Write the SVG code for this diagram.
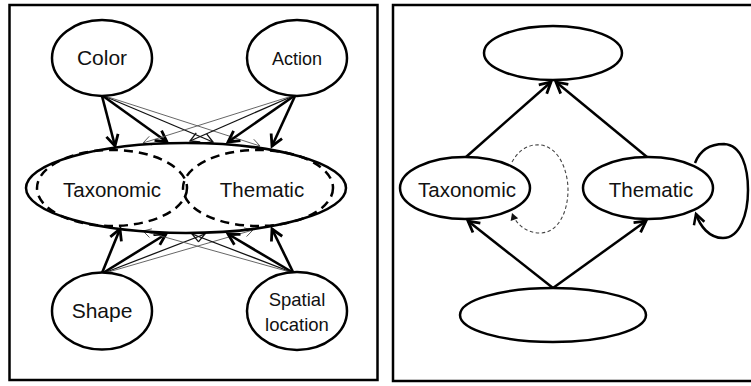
<svg xmlns="http://www.w3.org/2000/svg" width="751" height="386" viewBox="0 0 751 386">
<style>
.frame{fill:none;stroke:#000;stroke-width:2.5}
.node{fill:#fff;stroke:#000;stroke-width:2.5}
.big{fill:none;stroke:#000;stroke-width:2.5}
.dash{fill:none;stroke:#000;stroke-width:2.5;stroke-dasharray:9,6}
.lbl{font-family:"Liberation Sans",Arial,sans-serif;fill:#111;text-anchor:middle}
.thick{stroke:#000;stroke-width:2.6;fill:none;marker-end:url(#ah)}
.thin{stroke:#111;stroke-width:1.3;fill:none;marker-end:url(#am)}
.thinnest{stroke:#555;stroke-width:0.9;fill:none;marker-end:url(#as)}
.rarrow{stroke:#000;stroke-width:2.5;fill:none;marker-end:url(#ah)}
.dcurve{stroke:#444;stroke-width:1.1;fill:none;stroke-dasharray:3.5,2.5;marker-end:url(#ad)}
.loop{stroke:#000;stroke-width:2.5;fill:none;marker-end:url(#al)}
</style>
<defs>
<marker id="ah" markerUnits="userSpaceOnUse" markerWidth="20" markerHeight="20" refX="0" refY="0" viewBox="-14 -10 16 20" orient="auto"><path d="M-11,-6 L0,0 L-11,6" fill="none" stroke="#000" stroke-width="2.8"/></marker>
<marker id="am" markerUnits="userSpaceOnUse" markerWidth="20" markerHeight="20" refX="0" refY="0" viewBox="-14 -10 16 20" orient="auto"><path d="M-9,-5 L0,0 L-9,5" fill="none" stroke="#111" stroke-width="1.3"/></marker>
<marker id="as" markerUnits="userSpaceOnUse" markerWidth="20" markerHeight="20" refX="0" refY="0" viewBox="-14 -10 16 20" orient="auto"><path d="M-8,-4.5 L0,0 L-8,4.5" fill="none" stroke="#555" stroke-width="0.9"/></marker>
<marker id="ad" markerUnits="userSpaceOnUse" markerWidth="14" markerHeight="14" refX="0" refY="0" viewBox="-10 -7 12 14" orient="auto"><path d="M-7,-4 L0,0 L-7,4 Z" fill="#111" stroke="none"/></marker>
<marker id="al" markerUnits="userSpaceOnUse" markerWidth="20" markerHeight="20" refX="0" refY="0" viewBox="-14 -10 16 20" orient="auto"><path d="M-10,-5.5 L0,0 L-10,5.5" fill="none" stroke="#000" stroke-width="2.5"/></marker>
</defs>

<rect class="frame" x="9.5" y="5" width="368" height="375"/>
<rect class="frame" x="393" y="5" width="400" height="376"/>

<g id="connectors">
  <!-- left: from Color -->
  <line class="thick" x1="102" y1="96" x2="115" y2="146"/>
  <line class="thick" x1="103" y1="96" x2="167" y2="142"/>
  <line class="thin" x1="104" y1="96" x2="213" y2="142"/>
  <line class="thinnest" x1="105" y1="96" x2="260" y2="146"/>
  <!-- left: from Action -->
  <line class="thick" x1="295" y1="96" x2="272" y2="146"/>
  <line class="thick" x1="294" y1="96" x2="228" y2="142"/>
  <line class="thin" x1="293" y1="96" x2="190" y2="141"/>
  <line class="thinnest" x1="292" y1="96" x2="143" y2="143"/>
  <!-- left: from Shape -->
  <line class="thick" x1="102" y1="273" x2="120" y2="229"/>
  <line class="thick" x1="103" y1="273" x2="166" y2="234"/>
  <line class="thin" x1="104" y1="273" x2="205" y2="234"/>
  <line class="thinnest" x1="105" y1="273" x2="253" y2="230"/>
  <!-- left: from Spatial location -->
  <line class="thick" x1="293" y1="272" x2="272" y2="229"/>
  <line class="thick" x1="292" y1="272" x2="228" y2="234"/>
  <line class="thin" x1="291" y1="272" x2="192" y2="234"/>
  <line class="thinnest" x1="290" y1="272" x2="143" y2="231"/>
  <!-- right panel -->
  <line class="rarrow" x1="466" y1="157" x2="551" y2="82"/>
  <line class="rarrow" x1="647" y1="157" x2="556" y2="82"/>
  <line class="rarrow" x1="553" y1="288" x2="468" y2="221"/>
  <line class="rarrow" x1="553" y1="288" x2="646" y2="221"/>
  <path class="dcurve" d="M512,162 C520,148 530,144 541,145 C560,148 568,172 568,190 C568,212 558,233 540,233 C526,233 516,224 512,213"/>
  <path class="loop" d="M695,163 C700,150 710,144 724,144 C742,145 748,168 748,190 C748,214 740,238 723,238 C709,238 700,226 696,214"/>
</g>

<g id="left-big">
  <ellipse class="big" cx="186" cy="188" rx="160" ry="45"/>
</g>
<g id="left-taxonomic">
  <ellipse class="dash" cx="112" cy="188" rx="75" ry="38"/>
  <text class="lbl" x="112" y="197" font-size="20.5">Taxonomic</text>
</g>
<g id="left-thematic">
  <ellipse class="dash" cx="258" cy="188" rx="75" ry="38"/>
  <text class="lbl" x="262" y="197" font-size="20.5">Thematic</text>
</g>
<g id="color">
  <ellipse class="node" cx="102" cy="58" rx="50" ry="38"/>
  <text class="lbl" x="102" y="65" font-size="21">Color</text>
</g>
<g id="action">
  <ellipse class="node" cx="297" cy="58" rx="50" ry="38"/>
  <text class="lbl" x="297" y="65" font-size="18">Action</text>
</g>
<g id="shape">
  <ellipse class="node" cx="102" cy="311" rx="50" ry="38.5"/>
  <text class="lbl" x="102" y="318" font-size="21">Shape</text>
</g>
<g id="spatial-location">
  <ellipse class="node" cx="297" cy="311" rx="50" ry="39"/>
  <text class="lbl" x="297" y="306" font-size="18.5">Spatial</text>
  <text class="lbl" x="297" y="331" font-size="18.5">location</text>
</g>

<g id="right-top">
  <ellipse class="node" cx="553" cy="53" rx="69" ry="27"/>
</g>
<g id="right-taxonomic">
  <ellipse class="node" cx="465" cy="188" rx="65" ry="31"/>
  <text class="lbl" x="467" y="197" font-size="20.5">Taxonomic</text>
</g>
<g id="right-thematic">
  <ellipse class="node" cx="648" cy="188" rx="65" ry="31"/>
  <text class="lbl" x="651" y="197" font-size="20.5">Thematic</text>
</g>
<g id="right-bottom">
  <ellipse class="node" cx="553" cy="315" rx="93" ry="27"/>
</g>
</svg>
